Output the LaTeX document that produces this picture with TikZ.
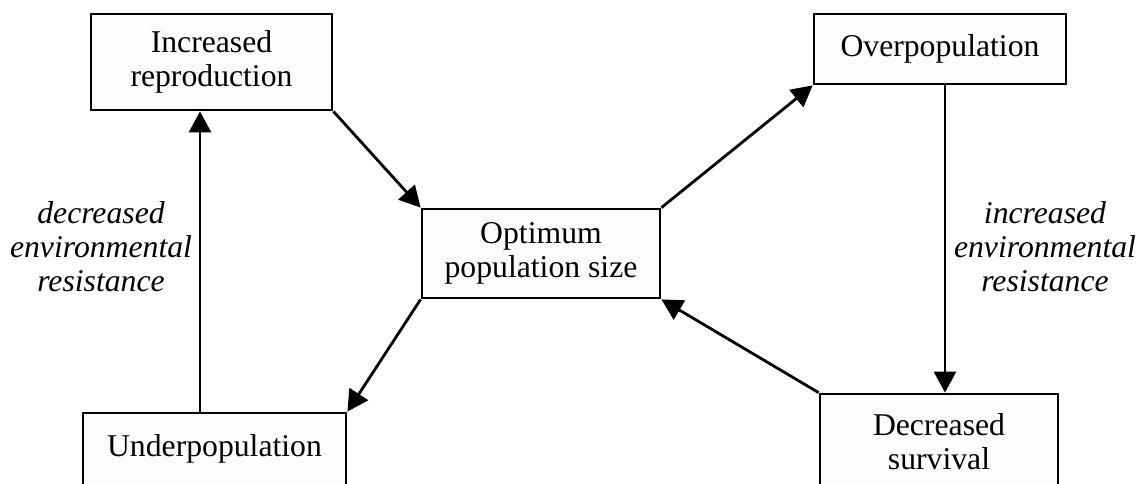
\documentclass[tikz,border=0pt]{standalone}
\usepackage{fontspec}
\setmainfont{Liberation Serif}
\usetikzlibrary{arrows.meta}
\begin{document}
\begin{tikzpicture}[x=0.5pt,y=-0.5pt,
  box/.style={draw=black, line width=1.4pt, fill=black!1, inner sep=0pt, align=center, font=\fontsize{15.85}{17}\selectfont},
  lbl/.style={align=center, inner sep=0pt, font=\fontsize{15.85}{17}\selectfont\itshape},
  arr/.style={line width=1.4pt, -{Triangle[length=10.5pt,width=11pt]}}]
\useasboundingbox (0,0) rectangle (1140,483);
\node[box, minimum width=120.5pt, minimum height=48pt] (IR) at (211.5,62) {Increased\\reproduction};
\node[box, minimum width=126pt, minimum height=35pt] (OP) at (940,49) {Overpopulation};
\node[box, minimum width=119pt, minimum height=44.5pt] (OPT) at (541,253.5) {Optimum\\population size};
\node[box, minimum width=131.5pt, minimum height=36pt] (UP) at (214.5,449) {Underpopulation};
\node[box, minimum width=119pt, minimum height=48pt] (DS) at (939,442) {Decreased\\survival};
\coordinate (xl) at (200,0);
\coordinate (xr) at (945,0);
\draw[arr] (IR.south east) -- (OPT.north west);
\draw[arr] (OPT.north east) -- (OP.south west);
\draw[arr] (OP.south -| xr) -- (DS.north -| xr);
\draw[arr] (DS.north west) -- (OPT.south east);
\draw[arr] (OPT.south west) -- (UP.north east);
\draw[arr] (UP.north -| xl) -- (IR.south -| xl);
\node[lbl] (L1) at (101,247) {decreased\\environmental\\resistance};
\node[lbl] (L2) at (1045,247) {increased\\environmental\\resistance};
\end{tikzpicture}
\end{document}
